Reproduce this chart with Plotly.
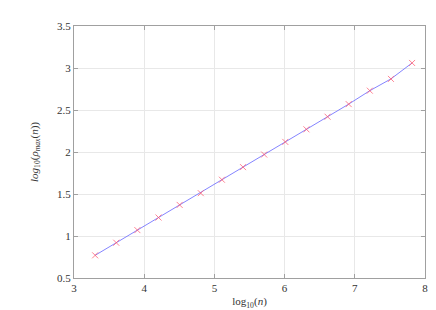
import plotly.graph_objects as go

log_n = [3.301, 3.602, 3.903, 4.204, 4.505, 4.806, 5.107, 5.408,
         5.709, 6.010, 6.311, 6.612, 6.913, 7.214, 7.515, 7.816]
log_rho = [0.77, 0.92, 1.07, 1.22, 1.37, 1.51, 1.67, 1.82,
           1.97, 2.12, 2.27, 2.42, 2.57, 2.73, 2.87, 3.06]

x_ticks = [3, 4, 5, 6, 7, 8]
y_ticks = [0.5, 1, 1.5, 2, 2.5, 3, 3.5]
y_tick_text = ["0.5", "1", "1.5", "2", "2.5", "3", "3.5"]

fig = go.Figure()
fig.add_trace(go.Scatter(x=log_n, y=log_rho, mode="lines",
                         line=dict(color="rgba(110,110,255,0.85)", width=1),
                         showlegend=False, hoverinfo="skip"))
fig.add_trace(go.Scatter(x=log_n, y=log_rho, mode="markers",
                         marker=dict(symbol="x-thin", size=6,
                                     line=dict(color="rgba(255,90,110,0.75)", width=1)),
                         showlegend=False))

font = dict(family="'Liberation Serif', 'DejaVu Serif', serif", size=11, color="#333")
axis_common = dict(showline=True, linecolor="#a0a0a0", linewidth=1, mirror="allticks",
                   ticks="inside", ticklen=4, tickcolor="#a0a0a0",
                   showgrid=True, gridcolor="#e8e8e8", gridwidth=1,
                   zeroline=False, tickfont=font)

fig.update_layout(
    width=436, height=310,
    margin=dict(l=66, r=19, t=12, b=33),
    paper_bgcolor="white", plot_bgcolor="white",
    font=font,
    xaxis=dict(range=[3, 8], tickvals=x_ticks, ticklabelstandoff=0,
               title=dict(text="log<sub>10</sub>(<i>n</i>)", standoff=4, font=font),
               **axis_common),
    yaxis=dict(range=[0.5, 3.5], tickvals=y_ticks, ticktext=y_tick_text,
               title=dict(text="<i>log</i><sub>10</sub>(<i>ρ<sub>max</sub></i>(<i>n</i>))",
                          standoff=16, font=font),
               **axis_common),
)

fig.write_html("out.html")
